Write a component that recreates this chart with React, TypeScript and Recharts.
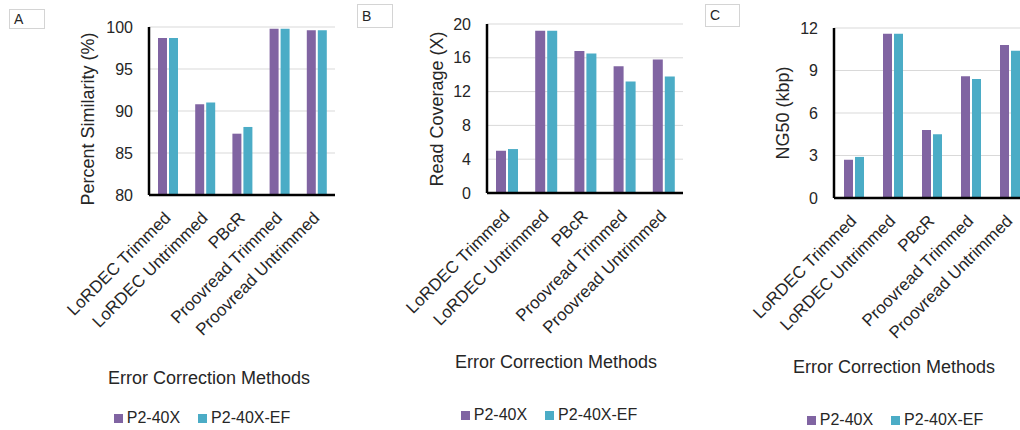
import React from "react";
import { Bar, BarChart, CartesianGrid, Legend, XAxis, YAxis } from "recharts";

// error correction methods (x categories)
const methods = [
  "LoRDEC Trimmed",
  "LoRDEC Untrimmed",
  "PBcR",
  "Proovread Trimmed",
  "Proovread Untrimmed",
];

const seriesNames = ["P2-40X", "P2-40X-EF"];

// A - percent similarity
const similarityP2 = [98.7, 90.8, 87.3, 99.8, 99.6];
const similarityP2EF = [98.7, 91.0, 88.1, 99.8, 99.6];
const similarityTicks = [80, 85, 90, 95, 100];

// B - read coverage
const coverageP2 = [5.0, 19.2, 16.8, 15.0, 15.8];
const coverageP2EF = [5.2, 19.2, 16.5, 13.2, 13.8];
const coverageTicks = [0, 4, 8, 12, 16, 20];

// C - NG50
const ng50P2 = [2.7, 11.6, 4.8, 8.6, 10.8];
const ng50P2EF = [2.9, 11.6, 4.5, 8.4, 10.4];
const ng50Ticks = [0, 3, 6, 9, 12];

const FONT = '"Liberation Sans", Arial, sans-serif';
const PURPLE = "#8064A2";
const TEAL = "#4BACC6";
const TEXT = "#262626";
const H = 430;

const toRows = (a: number[], b: number[]) =>
  methods.map((name, i) => ({ name, p2: a[i], p2ef: b[i] }));

function AngledTick({ x, y, payload }: any) {
  return (
    <text
      transform={`translate(${x + 4},${y + 24}) rotate(-45)`}
      textAnchor="end"
      fontSize={17}
      fill={TEXT}
      fontFamily={FONT}
    >
      {payload.value}
    </text>
  );
}

interface PanelProps {
  letter: string;
  left: number;
  width: number;
  plot: [number, number, number, number]; // left, top, right, bottom (chart-relative)
  ticks: number[];
  data: { name: string; p2: number; p2ef: number }[];
  yTitle: string;
  yTitlePos: [number, number];
  xTitlePos: [number, number];
  legendPos: [number, number];
  box: [number, number, number, number];
  barSize: number;
}

function Panel(p: PanelProps) {
  const [pl, pt, pr, pb] = p.plot;
  return (
    <div style={{ position: "absolute", left: p.left, top: 0, width: p.width, height: H }}>
      <div
        style={{
          position: "absolute",
          left: p.box[0],
          top: p.box[1],
          width: p.box[2],
          height: p.box[3],
          border: "1px solid #d4d4d4",
          boxSizing: "border-box",
          fontFamily: FONT,
          fontSize: 14,
          color: TEXT,
          paddingLeft: 4,
          lineHeight: `${p.box[3] - 2}px`,
        }}
      >
        {p.letter}
      </div>
      <BarChart
        width={p.width}
        height={H}
        data={p.data}
        margin={{ top: pt, right: p.width - pr, bottom: 0, left: 0 }}
        barGap={2}
        barSize={p.barSize}
      >
        <CartesianGrid vertical={false} stroke="#d9d9d9" strokeWidth={1} />
        <XAxis
          dataKey="name"
          height={H - pb}
          tickLine={false}
          tickSize={0}
          tickMargin={0}
          interval={0}
          axisLine={{ stroke: "#000", strokeWidth: 2.5 }}
          tick={<AngledTick />}
          label={{
            content: () => (
              <text
                x={p.xTitlePos[0]}
                y={p.xTitlePos[1]}
                textAnchor="middle"
                dominantBaseline="central"
                fontSize={18}
                fill={TEXT}
                fontFamily={FONT}
              >
                Error Correction Methods
              </text>
            ),
          }}
        />
        <YAxis
          width={pl}
          domain={[p.ticks[0], p.ticks[p.ticks.length - 1]]}
          ticks={p.ticks}
          interval={0}
          tickLine={false}
          tickSize={6}
          tickMargin={10}
          axisLine={{ stroke: "#000", strokeWidth: 2.5 }}
          tick={{ fontSize: 16, fill: TEXT, fontFamily: FONT }}
          label={{
            content: () => (
              <text
                transform={`translate(${p.yTitlePos[0]},${p.yTitlePos[1]}) rotate(-90)`}
                textAnchor="middle"
                dominantBaseline="central"
                fontSize={18}
                fill={TEXT}
                fontFamily={FONT}
              >
                {p.yTitle}
              </text>
            ),
          }}
        />
        <Legend
          verticalAlign="middle"
          align="center"
          iconType="square"
          iconSize={9}
          formatter={(value: string) => (
            <span style={{ color: TEXT, marginRight: 8 }}>{value}</span>
          )}
          wrapperStyle={{
            top: p.legendPos[1] - 10,
            left: p.legendPos[0] - 110,
            width: 220,
            fontSize: 16,
            lineHeight: "20px",
            fontFamily: FONT,
          }}
        />
        <Bar dataKey="p2" name={seriesNames[0]} fill={PURPLE} isAnimationActive={false} />
        <Bar dataKey="p2ef" name={seriesNames[1]} fill={TEAL} isAnimationActive={false} />
      </BarChart>
    </div>
  );
}

export default function App() {
  return (
    <div
      style={{
        position: "absolute",
        left: 0,
        top: 0,
        width: 1020,
        height: H,
        overflow: "hidden",
        background: "#fff",
      }}
    >
      <Panel
        letter="A"
        left={0}
        width={340}
        plot={[149, 27, 335, 195]}
        ticks={similarityTicks}
        data={toRows(similarityP2, similarityP2EF)}
        yTitle="Percent Similarity (%)"
        yTitlePos={[88, 119]}
        xTitlePos={[209, 378]}
        legendPos={[211, 418]}
        box={[9, 9, 36, 20]}
        barSize={9}
      />
      <Panel
        letter="B"
        left={340}
        width={350}
        plot={[147, 24, 343, 193]}
        ticks={coverageTicks}
        data={toRows(coverageP2, coverageP2EF)}
        yTitle="Read Coverage  (X)"
        yTitlePos={[97, 109]}
        xTitlePos={[216, 362]}
        legendPos={[218, 415]}
        box={[17, 4, 36, 24]}
        barSize={10}
      />
      <Panel
        letter="C"
        left={680}
        width={360}
        plot={[154, 28, 349, 198]}
        ticks={ng50Ticks}
        data={toRows(ng50P2, ng50P2EF)}
        yTitle="NG50 (kbp)"
        yTitlePos={[103, 113]}
        xTitlePos={[214, 367]}
        legendPos={[224, 420]}
        box={[25, 4, 35, 23]}
        barSize={9}
      />
    </div>
  );
}
